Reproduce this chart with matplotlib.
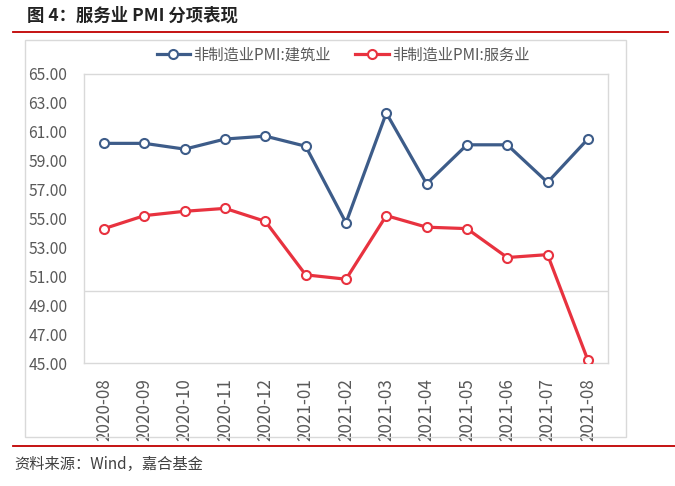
import matplotlib.pyplot as plt
from matplotlib.patches import Rectangle
from matplotlib.lines import Line2D

plt.rcParams['font.family'] = ['Noto Sans CJK SC', 'DejaVu Sans']

months = ['2020-08', '2020-09', '2020-10', '2020-11', '2020-12', '2021-01',
          '2021-02', '2021-03', '2021-04', '2021-05', '2021-06', '2021-07', '2021-08']
jianzhu = [60.2, 60.2, 59.8, 60.5, 60.7, 60.0, 54.7, 62.3, 57.4, 60.1, 60.1, 57.5, 60.5]
fuwu = [54.3, 55.2, 55.5, 55.7, 54.8, 51.1, 50.8, 55.2, 54.4, 54.3, 52.3, 52.5, 45.2]
yticks = [45, 47, 49, 51, 53, 55, 57, 59, 61, 63, 65]

W, H = 675, 486
fig = plt.figure(figsize=(W / 100, H / 100), dpi=100)

blue = '#3D5C89'
red = '#E8323F'
grey_txt = '#595959'
grey_line = '#D9D9D9'

# outer frame of the chart box
fig.patches.append(Rectangle((25 / W, 1 - 437 / H), (626 - 25) / W, (437 - 40) / H,
                             transform=fig.transFigure, fill=False,
                             edgecolor=grey_line, linewidth=1))

# red rules under title and above source
fig.add_artist(Line2D([13 / W, 668 / W], [1 - 32 / H, 1 - 32 / H], color='#C00000', lw=1.3))
fig.add_artist(Line2D([13 / W, 675 / W], [1 - 446 / H, 1 - 446 / H], color='#C00000', lw=1.3))

fig.text(27 / W, 1 - 16 / H, '图 4：服务业 PMI 分项表现', fontsize=12.5, fontweight='bold',
         color='#222222', va='center', ha='left')
fig.text(14 / W, 1 - 464 / H, '资料来源：Wind，嘉合基金', fontsize=11,
         color='#404040', va='center', ha='left')

ax = fig.add_axes([84 / W, 1 - 363 / H, (608 - 84) / W, (363 - 74) / H])
x = range(len(months))
ax.plot(x, jianzhu, color=blue, lw=2.3, marker='o', ms=6.5, mfc='white',
        mec=blue, mew=1.5, label='非制造业PMI:建筑业', zorder=3)
ax.plot(x, fuwu, color=red, lw=2.3, marker='o', ms=6.5, mfc='white',
        mec=red, mew=1.5, label='非制造业PMI:服务业', zorder=3)

ax.axhline(50, color=grey_line, lw=1, zorder=1)
ax.set_xlim(-0.5, len(months) - 0.5)
ax.set_ylim(45, 65)
ax.set_yticks(yticks)
ax.set_yticklabels([f'{v:.2f}' for v in yticks])
ax.set_xticks(list(x))
ax.set_xticklabels(months, rotation=90)
ax.tick_params(length=0, colors=grey_txt, labelsize=11.3, pad=12)
ax.tick_params(axis='x', labelsize=12.3, pad=11)
for s in ax.spines.values():
    s.set_color(grey_line)
    s.set_linewidth(1)

fig.legend(loc='center', bbox_to_anchor=(343 / W, 1 - 55 / H), ncol=2, frameon=False,
           fontsize=11, handlelength=2.2, handletextpad=0.2, columnspacing=1.6,
           labelcolor=grey_txt)

fig.savefig('out.png', dpi=100)
